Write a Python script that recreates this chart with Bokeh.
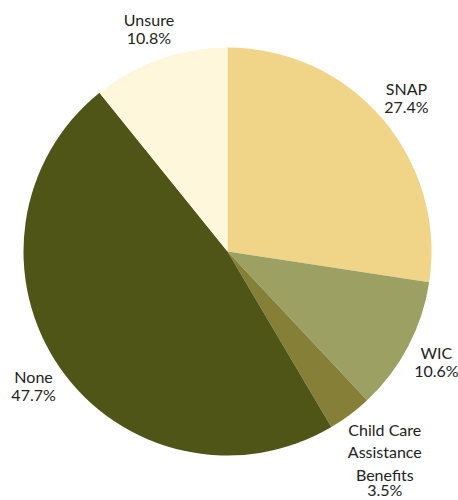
import math
from bokeh.plotting import figure
from bokeh.models import Range1d, ColumnDataSource
from bokeh.core.properties import value
from bokeh.embed import file_html
from bokeh.resources import INLINE

categories = ["SNAP", "WIC", "Child Care Assistance Benefits", "None", "Unsure"]
label_lines = [["SNAP"], ["WIC"], ["Child Care", "Assistance", "Benefits"], ["None"], ["Unsure"]]
shares = [27.4, 10.6, 3.5, 47.7, 10.8]
colors = ["#F0D488", "#9CA062", "#857F38", "#4F5417", "#FEF7DC"]

W, H = 458, 500
cx, cy, r = 227, 249, 204

p = figure(width=W, height=H, output_backend="svg", toolbar_location=None,
           x_range=Range1d(0, W), y_range=Range1d(0, H), min_border=0)
p.axis.visible = False
p.grid.visible = False
p.outline_line_color = None

total = sum(shares)
starts, ends, mids = [], [], []
acc = 0.0
for s in shares:
    t1 = acc / total * 2 * math.pi
    acc += s
    t2 = acc / total * 2 * math.pi
    starts.append(math.pi / 2 - t2)
    ends.append(math.pi / 2 - t1)
    mids.append((t1 + t2) / 2)

src = ColumnDataSource(dict(x=[cx] * len(shares), y=[cy] * len(shares),
                            start=starts, end=ends, color=colors))
p.wedge(x="x", y="y", radius=r, start_angle="start", end_angle="end",
        fill_color="color", line_color=None, source=src)

tx, ty, tt, toff = [], [], [], []
for lines, s, m in zip(label_lines, shares, mids):
    n = len(lines) + 1
    R = 236 + (n - 2) * 13
    lx = cx + R * math.sin(m)
    ly = cy + R * math.cos(m)
    if len(lines) == 1:
        offs = [-9, 9]
    else:
        offs = [-32, -10, 13, 28]
    for txt, o in zip(lines + [f"{s}%"], offs):
        tx.append(lx)
        ty.append(ly)
        tt.append(txt)
        toff.append(o)

lsrc = ColumnDataSource(dict(x=tx, y=ty, text=tt, yo=toff))
p.text(x="x", y="y", text="text", y_offset="yo", source=lsrc,
       text_align="center", text_baseline="middle",
       text_font=value("Lato"), text_font_size="16px", text_color="#222222")

open("out.html", "w").write(file_html(p, INLINE))
